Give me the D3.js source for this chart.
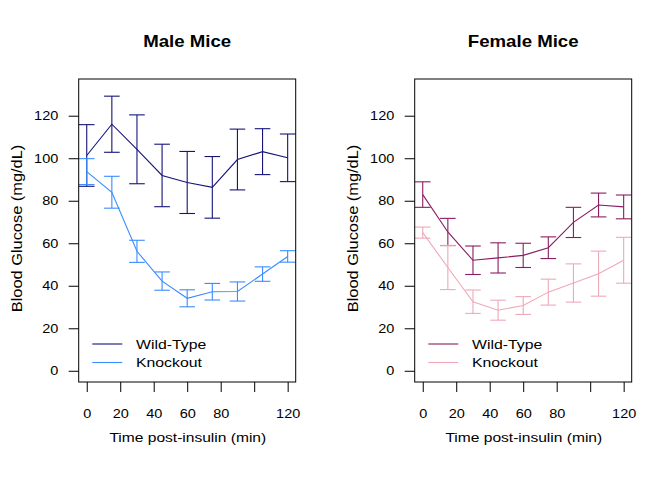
<!DOCTYPE html>
<html>
<head>
<meta charset="utf-8">
<script src="https://cdn.jsdelivr.net/npm/d3@7"></script>
<style>
  html, body { margin: 0; padding: 0; background: #ffffff; }
  svg { display: block; }
  text { font-family: "Liberation Sans", Arial, Helvetica, sans-serif; fill: #000; }
</style>
</head>
<body>
<script>
// ---- data ----
const timePoints = [0, 15, 30, 45, 60, 75, 90, 105, 120];
const maleWT      = [101.3, 116.0, 104.2, 91.9, 88.6, 86.3, 99.4, 103.1, 100.2];
const maleWTErr   = [14.5, 13.2, 16.2, 14.7, 14.6, 14.5, 14.3, 10.8, 11.2];
const maleKO      = [93.7, 84.0, 56.2, 42.2, 34.1, 37.2, 37.3, 45.5, 53.8];
const maleKOErr   = [6.1, 7.5, 5.2, 4.3, 4.0, 3.9, 4.5, 3.4, 2.7];
const femaleWT    = [82.9, 65.3, 52.0, 53.1, 54.3, 57.9, 69.8, 78.0, 77.1];
const femaleWTErr = [6.0, 6.4, 6.7, 7.1, 5.7, 5.1, 7.1, 5.6, 5.6];
const femaleKO    = [65.0, 48.6, 32.5, 28.5, 30.7, 37.0, 41.3, 45.7, 52.0];
const femaleKOErr = [2.6, 10.4, 5.5, 4.7, 4.2, 6.1, 9.0, 10.6, 10.8];

const xTicks = [0, 20, 40, 60, 80, 100, 120];
const xTickLabels = ["0", "20", "40", "60", "80", "", "120"];
const yTicks = [0, 20, 40, 60, 80, 100, 120];
const yTickLabels = ["0", "20", "40", "60", "80", "100", "120"];
const legendLabels = ["Wild-Type", "Knockout"];
const panelTitles = ["Male Mice", "Female Mice"];
const xTitle = "Time post-insulin (min)";
const yTitle = "Blood Glucose (mg/dL)";

const panels = [
  { title: panelTitles[0], series: [
      { values: maleWT, err: maleWTErr, color: "#14147a" },
      { values: maleKO, err: maleKOErr, color: "#3a8cff" } ] },
  { title: panelTitles[1], series: [
      { values: femaleWT, err: femaleWTErr, color: "#8B1C62" },
      { values: femaleKO, err: femaleKOErr, color: "#EEA9B8" } ] }
];

// ---- layout ----
const W = 672, H = 480;
const SX = 1.18; // horizontal text stretch
const box = { left: 78.7, right: 295.7, top: 79, bottom: 382 };
const panelOffset = 336;

const svg = d3.select("body").append("svg").attr("width", W).attr("height", H);

const x = d3.scaleLinear().domain([-4.8, 124.8]).range([box.left, box.right]);
const y = d3.scaleLinear().domain([-5.28, 137.28]).range([box.bottom, box.top]);

function stretchedText(g, str, tx, ty, size, anchor, opts = {}) {
  const t = g.append("text")
    .attr("transform", `translate(${tx},${ty})` + (opts.rotate ? ` rotate(${opts.rotate})` : "") + ` scale(${SX},1)`)
    .attr("text-anchor", anchor)
    .style("font-size", size + "px")
    .text(str);
  if (opts.bold) t.style("font-weight", "bold");
  if (opts.dy) t.attr("dy", opts.dy);
  return t;
}

panels.forEach((p, pi) => {
  const g = svg.append("g").attr("transform", `translate(${pi * panelOffset},0)`);

  // series
  p.series.forEach(s => {
    const line = d3.line().x((d, i) => x(timePoints[i])).y(d => y(d));
    g.append("path").datum(s.values)
      .attr("d", line).attr("fill", "none")
      .attr("stroke", s.color).attr("stroke-width", 1.1);
    const cap = 7.8;
    const eb = g.append("g").attr("stroke", s.color).attr("stroke-width", 1.1).attr("fill", "none");
    s.values.forEach((v, i) => {
      const cx = x(timePoints[i]);
      const yt = y(v + s.err[i]), yb = y(v - s.err[i]);
      eb.append("line").attr("x1", cx).attr("x2", cx).attr("y1", yt).attr("y2", yb);
      eb.append("line").attr("x1", cx - cap).attr("x2", cx + cap).attr("y1", yt).attr("y2", yt);
      eb.append("line").attr("x1", cx - cap).attr("x2", cx + cap).attr("y1", yb).attr("y2", yb);
    });
  });

  // box
  g.append("rect")
    .attr("x", box.left).attr("y", box.top)
    .attr("width", box.right - box.left).attr("height", box.bottom - box.top)
    .attr("fill", "none").attr("stroke", "#000").attr("stroke-width", 1);

  // x axis
  const xa = g.append("g").attr("transform", `translate(0,${box.bottom})`)
    .call(d3.axisBottom(x).tickValues(xTicks).tickSize(10).tickSizeOuter(0).tickPadding(17)
      .tickFormat((d, i) => xTickLabels[i]));
  xa.select(".domain").remove();
  xa.selectAll(".tick line").attr("stroke", "#000");
  xa.selectAll("text").style("font-size", "12.3px").style("font-family", "'Liberation Sans', Arial, sans-serif")
    .attr("transform", `scale(${SX},1)`);

  // y axis
  const ya = g.append("g").attr("transform", `translate(${box.left},0)`)
    .call(d3.axisLeft(y).tickValues(yTicks).tickSize(10).tickSizeOuter(0).tickPadding(10.4)
      .tickFormat((d, i) => yTickLabels[i]));
  ya.select(".domain").remove();
  ya.selectAll(".tick line").attr("stroke", "#000");
  ya.selectAll("text").style("font-size", "12.3px").style("font-family", "'Liberation Sans', Arial, sans-serif")
    .attr("x", -(10 + 10.4) / SX)
    .attr("transform", `scale(${SX},1)`);

  // titles
  const cx = (box.left + box.right) / 2;
  stretchedText(g, p.title, cx, 47, 15.8, "middle", { bold: true });
  stretchedText(g, xTitle, cx + 0.6, 442, 13.2, "middle");
  stretchedText(g, yTitle, 21.7, 228.5, 13.9, "middle", { rotate: -90 });

  // legend
  const legY = [344, 362.5];
  p.series.forEach((s, i) => {
    g.append("line").attr("x1", 92.3).attr("x2", 122.3)
      .attr("y1", legY[i]).attr("y2", legY[i])
      .attr("stroke", s.color).attr("stroke-width", 1.1);
    stretchedText(g, legendLabels[i], 136, legY[i], 13.4, "start", { dy: "0.36em" });
  });
});
</script>
</body>
</html>
